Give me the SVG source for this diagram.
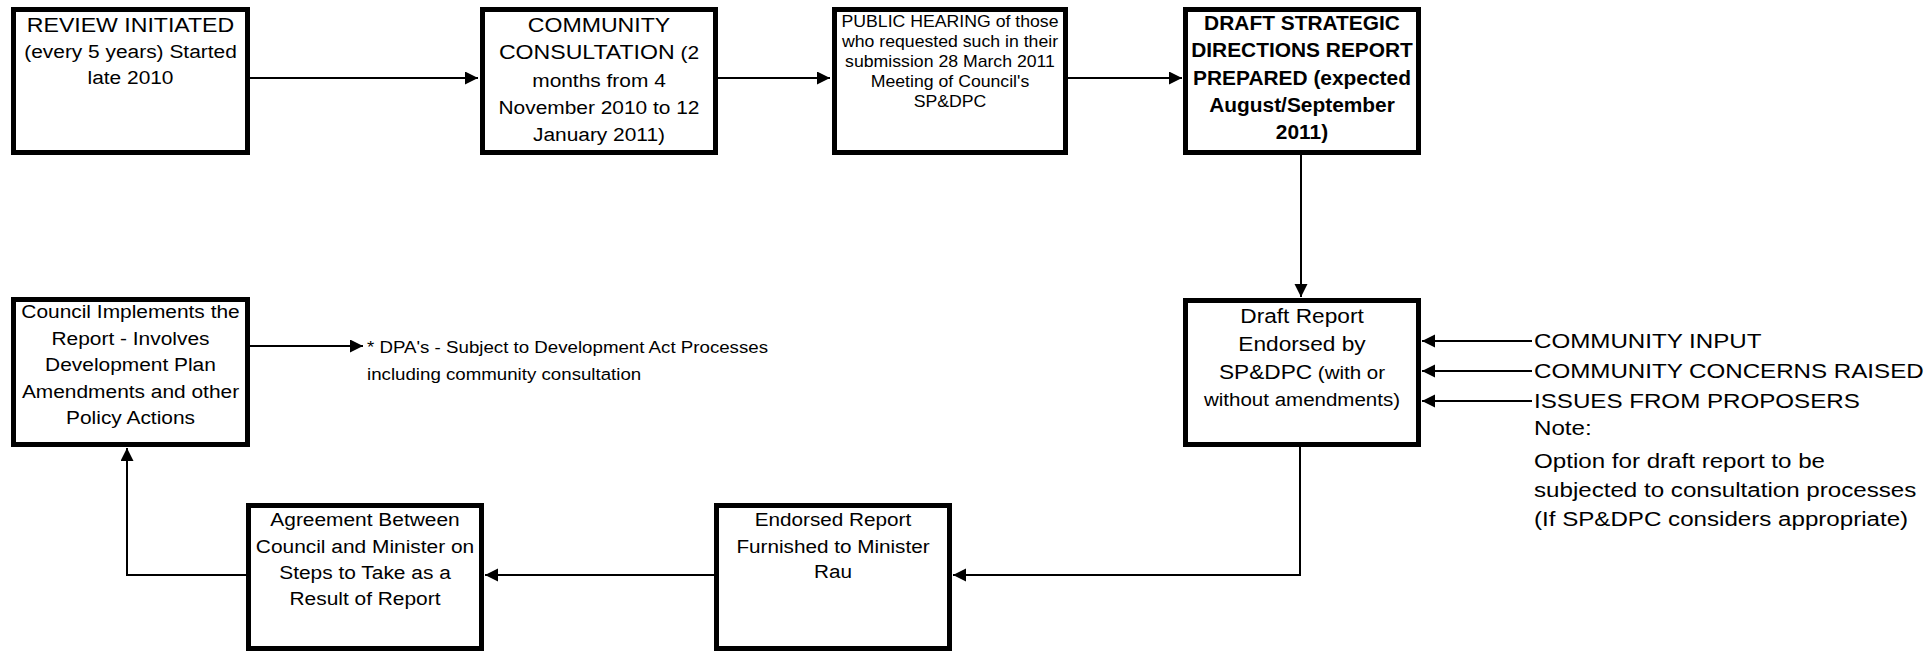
<svg xmlns="http://www.w3.org/2000/svg" width="1930" height="651" viewBox="0 0 1930 651">
<style>
.box{fill:#fff;stroke:#000;stroke-width:5}
.t{font-family:"Liberation Sans",Arial,sans-serif;fill:#000;text-anchor:middle}
.l{font-family:"Liberation Sans",Arial,sans-serif;fill:#000}
.big{font-size:21px}
.sm{font-size:19px}
.xs{font-size:17px}
.bold{font-size:20.5px;font-weight:bold}
.c{fill:none;stroke:#000;stroke-width:2}
</style>
<defs>
<marker id="ah" markerUnits="userSpaceOnUse" markerWidth="14" markerHeight="14" refX="13" refY="6.5" orient="auto">
<path d="M0,0 L13,6.5 L0,13 z" fill="#000"/>
</marker>
</defs>
<rect width="1930" height="651" fill="#fff"/>

<g id="connectors">
<line class="c" x1="250" y1="78" x2="478" y2="78" marker-end="url(#ah)"/>
<line class="c" x1="714" y1="78" x2="830" y2="78" marker-end="url(#ah)"/>
<line class="c" x1="1068" y1="78" x2="1182" y2="78" marker-end="url(#ah)"/>
<line class="c" x1="1301" y1="155" x2="1301" y2="297" marker-end="url(#ah)"/>
<polyline class="c" points="1300,447 1300,575 953,575" marker-end="url(#ah)"/>
<line class="c" x1="714" y1="575" x2="485" y2="575" marker-end="url(#ah)"/>
<polyline class="c" points="246,575 127,575 127,448" marker-end="url(#ah)"/>
<line class="c" x1="250" y1="346" x2="363" y2="346" marker-end="url(#ah)"/>
<line class="c" x1="1532" y1="341" x2="1422" y2="341" marker-end="url(#ah)"/>
<line class="c" x1="1532" y1="371" x2="1422" y2="371" marker-end="url(#ah)"/>
<line class="c" x1="1532" y1="401" x2="1422" y2="401" marker-end="url(#ah)"/>
</g>

<g id="review">
<rect class="box" x="13.5" y="9.5" width="234" height="143"/>
<g transform="translate(130.5 0) scale(1.1 1)">
<text class="t big" x="0" y="32">REVIEW INITIATED</text>
<text class="t sm" x="0" y="58">(every 5 years) Started</text>
<text class="t sm" x="0" y="84">late 2010</text>
</g>
</g>

<g id="consultation">
<rect class="box" x="482.5" y="9.5" width="233" height="143"/>
<g transform="translate(599 0) scale(1.1 1)">
<text class="t big" x="0" y="32">COMMUNITY</text>
<text class="t big" x="0" y="59">CONSULTATION<tspan class="sm"> (2</tspan></text>
<text class="t sm" x="0" y="87">months from 4</text>
<text class="t sm" x="0" y="114">November 2010 to 12</text>
<text class="t sm" x="0" y="141">January 2011)</text>
</g>
</g>

<g id="hearing">
<rect class="box" x="834.5" y="9.5" width="231" height="143"/>
<g transform="translate(950 0) scale(1.04 1)">
<text class="t xs" x="0" y="27">PUBLIC HEARING of those</text>
<text class="t xs" x="0" y="47">who requested such in their</text>
<text class="t xs" x="0" y="67">submission 28 March 2011</text>
<text class="t xs" x="0" y="87">Meeting of Council's</text>
<text class="t xs" x="0" y="107">SP&amp;DPC</text>
</g>
</g>

<g id="draft-strategic">
<rect class="box" x="1185.5" y="9.5" width="233" height="143"/>
<g transform="translate(1302 0) scale(1.02 1)">
<text class="t bold" x="0" y="30">DRAFT STRATEGIC</text>
<text class="t bold" x="0" y="57.5">DIRECTIONS REPORT</text>
<text class="t bold" x="0" y="85">PREPARED (expected</text>
<text class="t bold" x="0" y="112">August/September</text>
<text class="t bold" x="0" y="139.5">2011)</text>
</g>
</g>

<g id="draft-endorsed">
<rect class="box" x="1185.5" y="300.5" width="233" height="144"/>
<g transform="translate(1302 0) scale(1.08 1)">
<text class="t big" x="0" y="323">Draft Report</text>
<text class="t big" x="0" y="351">Endorsed by</text>
<text class="t big" x="0" y="379">SP&amp;DPC<tspan class="sm"> (with or</tspan></text>
<text class="t sm" x="0" y="406">without amendments)</text>
</g>
</g>

<g id="inputs">
<g transform="translate(1534 0) scale(1.15 1)">
<text class="l big" x="0" y="348">COMMUNITY INPUT</text>
<text class="l big" x="0" y="378">COMMUNITY CONCERNS RAISED</text>
<text class="l big" x="0" y="408">ISSUES FROM PROPOSERS</text>
<text class="l big" x="0" y="435">Note:</text>
<text class="l big" x="0" y="468">Option for draft report to be</text>
<text class="l big" x="0" y="497">subjected to consultation processes</text>
<text class="l big" x="0" y="526">(If SP&amp;DPC considers appropriate)</text>
</g>
</g>

<g id="endorsed-report">
<rect class="box" x="716.5" y="505.5" width="233" height="143"/>
<g transform="translate(833 0) scale(1.09 1)">
<text class="t sm" x="0" y="526">Endorsed Report</text>
<text class="t sm" x="0" y="553">Furnished to Minister</text>
<text class="t sm" x="0" y="578">Rau</text>
</g>
</g>

<g id="agreement">
<rect class="box" x="248.5" y="505.5" width="233" height="143"/>
<g transform="translate(365 0) scale(1.1 1)">
<text class="t sm" x="0" y="526">Agreement Between</text>
<text class="t sm" x="0" y="553">Council and Minister on</text>
<text class="t sm" x="0" y="579">Steps to Take as a</text>
<text class="t sm" x="0" y="605">Result of Report</text>
</g>
</g>

<g id="council">
<rect class="box" x="13.5" y="299.5" width="234" height="145"/>
<g transform="translate(130.5 0) scale(1.1 1)">
<text class="t sm" x="0" y="318">Council Implements the</text>
<text class="t sm" x="0" y="345">Report - Involves</text>
<text class="t sm" x="0" y="371.5">Development Plan</text>
<text class="t sm" x="0" y="398">Amendments and other</text>
<text class="t sm" x="0" y="424.5">Policy Actions</text>
</g>
</g>

<g id="dpa-note">
<g transform="translate(367 0) scale(1.1 1)">
<text class="l xs" x="0" y="353">* DPA's - Subject to Development Act Processes</text>
<text class="l xs" x="0" y="380">including community consultation</text>
</g>
</g>
</svg>
